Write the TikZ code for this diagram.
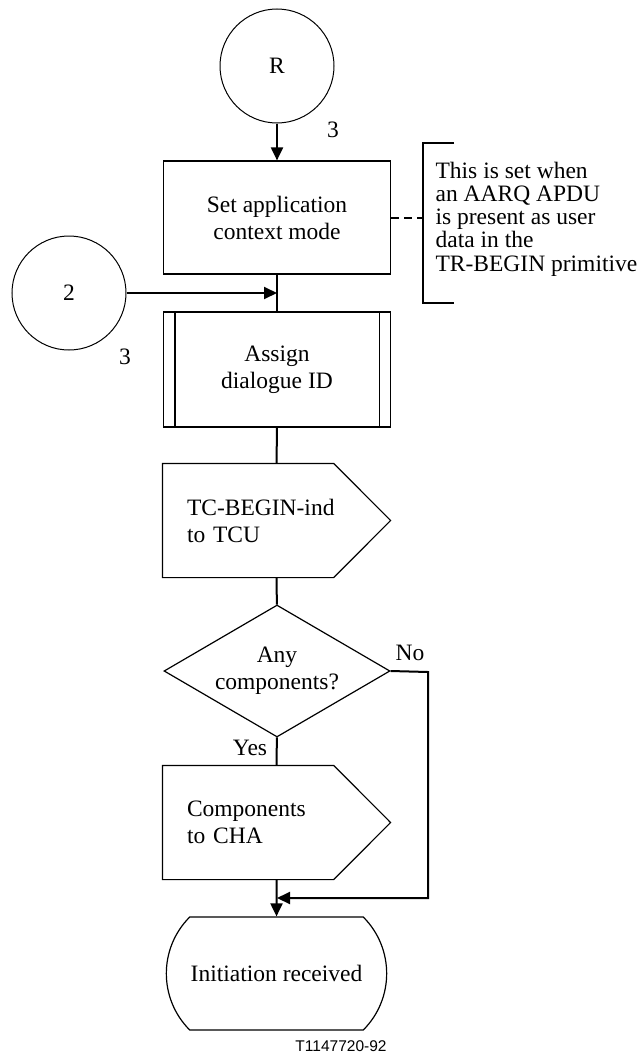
\documentclass[tikz,border=0pt]{standalone}
\usepackage{fontspec}
\setmainfont{Liberation Serif}
\newfontfamily\tagfont{Liberation Sans}
\usetikzlibrary{arrows.meta, shapes.geometric, shapes.misc, positioning}

\begin{document}
\begin{tikzpicture}[x=1pt,y=-1pt,font=\fontsize{23.5}{27}\selectfont,>={Triangle[length=13pt,width=12pt]},line width=1.2pt]

	\tikzset{node conn/.style={circle, draw, line width=1pt,
			minimum size=114pt, inner sep=0pt}}
	\tikzset{node task/.style={rectangle, draw,
			minimum width=227pt, minimum height=113pt, align=center}}
	\tikzset{node sig/.style={rectangle, minimum width=227pt,
			minimum height=113pt, inner xsep=24pt, text width=179pt, align=left}}
	\tikzset{node dec/.style={diamond, draw, minimum width=226pt,
			minimum height=132pt, aspect=1.7, inner sep=0pt, align=center}}
	\tikzset{node term/.style={rounded rectangle, rounded rectangle arc length=90,
			draw, minimum width=227pt, minimum height=113pt}}
	\tikzset{flow/.style={line width=2pt}}

	\useasboundingbox (0,0) rectangle (640,1057);

	\node[node conn] (R) at (277,66) {R};
	\node[node task] (ctx) at (277,217.5) {Set application\\context mode};
	\node[node conn] (C2) at (69,293) {2};
	\node[node task, minimum height=115pt] (dlg) at (277,369.5) {Assign\\dialogue ID};
	\node[node sig] (tcb) at (276.5,520.5) {TC-BEGIN-ind\\to TCU};
	\node[node dec] (any) at (277,671) {Any\\components?};
	\node[node sig] (cha) at (276.5,822.5) {Components\\to CHA};
	\node[node term] (init) at (276.5,973.5) {Initiation received};

	\node (n3a) at (333,130) {3};
	\node (n3b) at (125,357) {3};
	\node (no) at (410,653) {No};
	\node (yes) at (250,748) {Yes};
	\node (tag) at (341,1046) {\tagfont\fontsize{15.5}{18}\selectfont T1147720-92};

	\node[anchor=west, align=left, inner sep=0pt,
		font=\fontsize{23.5}{23.3}\selectfont] (note) at (435,219)
	{This is set when\\an AARQ APDU\\is present as user\\data in the\\TR-BEGIN primitive};

	\draw ([xshift=12pt]dlg.north west) -- ([xshift=12pt]dlg.south west)
	([xshift=-12pt]dlg.north east) -- ([xshift=-12pt]dlg.south east);
	\draw (tcb.north west) -- ([xshift=-57pt]tcb.north east) -- (tcb.east)
	-- ([xshift=-57pt]tcb.south east) -- (tcb.south west) -- cycle;
	\draw (cha.north west) -- ([xshift=-57pt]cha.north east) -- (cha.east)
	-- ([xshift=-57pt]cha.south east) -- (cha.south west) -- cycle;

	\coordinate (brt) at (423,143);
	\coordinate (brb) at (423,303);
	\coordinate (nocol) at (428,672);
	\coordinate (merge) at (277,898);

	\draw[flow] ([xshift=31pt]brt) -- (brt) -- (brb) -- ([xshift=31pt]brb);
	\draw[flow, dash pattern=on 8pt off 5pt] (ctx.east) -- (ctx.east -| brt);

	\draw[flow, ->] (R) -- (ctx);
	\draw[flow] (ctx) -- (dlg);
	\draw[flow, ->] (C2) -- (C2 -| ctx.south);
	\draw[flow] (dlg) -- (tcb);
	\draw[flow] (tcb) -- (any);
	\draw[flow] (any) -- (cha);
	\draw[flow, ->] (cha) -- (init);
	\draw[flow, ->] (any.east) -- (nocol) |- (merge);
\end{tikzpicture}
\end{document}
